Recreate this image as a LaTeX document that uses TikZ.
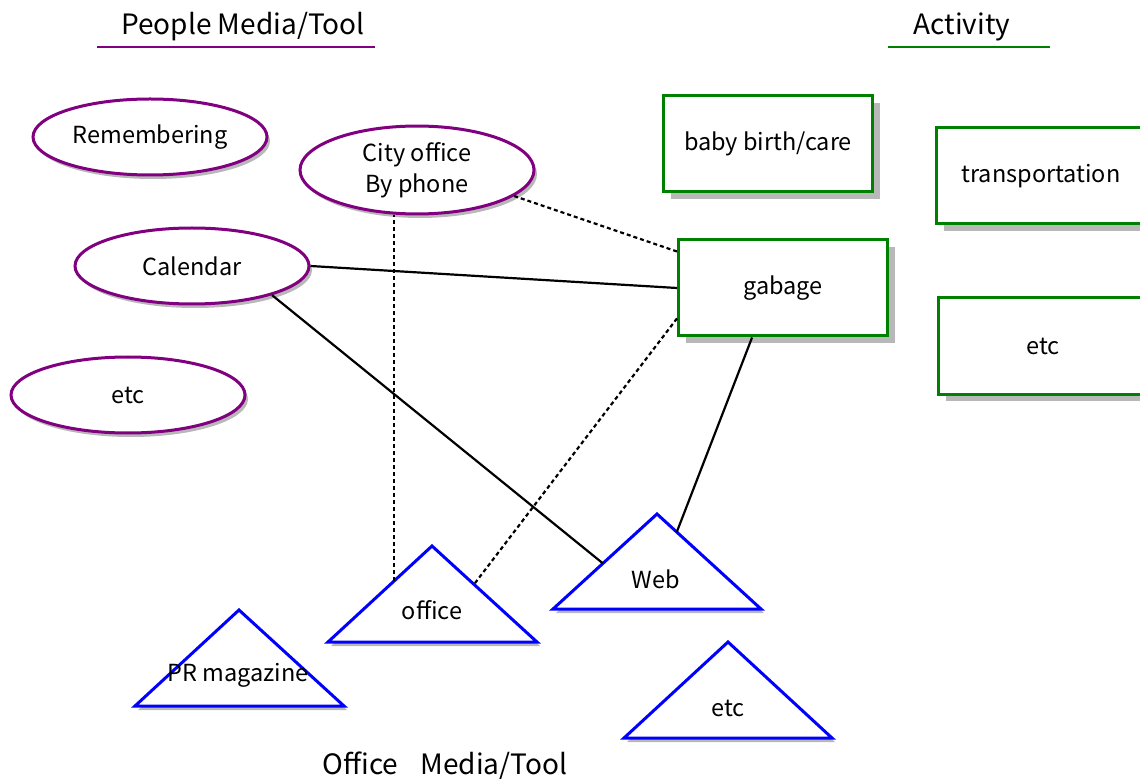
\documentclass[tikz,border=0pt]{standalone}
\usepackage{fontspec}
\setmainfont{Noto Sans CJK JP}
\usetikzlibrary{shapes.geometric,shadows,calc}
\definecolor{peoplecol}{RGB}{128,0,128}
\definecolor{actcol}{RGB}{0,128,0}
\definecolor{officecol}{RGB}{0,0,255}
\begin{document}
\begin{tikzpicture}[x=1pt, y=-1pt, line width=2pt,
                    shadowA/.style={drop shadow={shadow xshift=3pt, shadow yshift=-4pt, fill=black!28, opacity=1}},
                    shadowB/.style={drop shadow={shadow xshift=7pt, shadow yshift=-7pt, fill=black!28, opacity=1}}]
\tikzstyle{every node}=[font=\fontsize{23.5}{31}\selectfont]
\tikzstyle{heading}=[font=\fontsize{28}{32}\selectfont]
\tikzstyle{people}=[ellipse, draw=peoplecol, line width=3pt, fill=white, minimum width=234pt, minimum height=76pt, shadowA]
\tikzstyle{activity}=[rectangle, draw=actcol, line width=3pt, fill=white, minimum width=209pt, minimum height=96pt, shadowB]
\tikzstyle{tool}=[draw=officecol, line width=3pt, fill=white, line join=miter, shadowA]
\tikzstyle{link}=[black, line width=2.2pt]
\tikzstyle{dlink}=[black, line width=2.2pt, dash pattern=on 4pt off 3pt]
\useasboundingbox (0,0) rectangle (1140,783);

% headings
\node [heading] (ptitle) at (243,27) {People Media/Tool};
\draw[peoplecol, line width=2.5pt] (97,47) -- (375,47);
\node [heading] (atitle) at (962,27) {Activity};
\draw[actcol, line width=2.5pt] (888,47) -- (1050,47);
\node [heading] (otitle) at (445,766) {Office\hspace{0.8em}Media/Tool};

% people media
\node [people] (remem) at (150,137) {Remembering};
\node [people, align=center] (city) at (417,170) {City office\\By phone};
\node [people] (cal) at (192,266) {Calendar};
\node [people] (petc) at (128,395) {etc};

% activities
\node [activity] (baby) at (768,144) {baby birth/care};
\node [activity] (trans) at (1041,176) {transportation};
\node [activity] (gab) at (783,288) {gabage};
\node [activity] (aetc) at (1043,346) {etc};

% office media
\coordinate (webA) at (657,514); \coordinate (webL) at (553,609); \coordinate (webR) at (761,609);
\coordinate (offA) at (432,546); \coordinate (offL) at (328,642); \coordinate (offR) at (537,642);
\coordinate (prA) at (239,610);  \coordinate (prL) at (135,706);  \coordinate (prR) at (344,706);
\coordinate (oetcA) at (728,642); \coordinate (oetcL) at (624,738); \coordinate (oetcR) at (832,738);
\filldraw[tool] (webA) -- (webL) -- (webR) -- cycle;
\filldraw[tool] (offA) -- (offL) -- (offR) -- cycle;
\filldraw[tool] (prA) -- (prL) -- (prR) -- cycle;
\filldraw[tool] (oetcA) -- (oetcL) -- (oetcR) -- cycle;
\node (web) at (656,579) {Web};
\node (office) at (432,610) {office};
\node (pr) at (238,675) {PR magazine};
\node (oetc) at (728,708) {etc};

% links
\coordinate (offin1) at ($(offA)!0.365!(offL)$);
\coordinate (offin2) at ($(offA)!0.40!(offR)$);
\coordinate (webin1) at ($(webA)!0.52!(webL)$);
\coordinate (webin2) at ($(webA)!0.19!(webR)$);
\draw[dlink] (offin1) -- (offin1 |- city.south);
\draw[dlink] (city.-15) -- (gab.161);
\draw[link] (cal.east) -- (gab.west);
\draw[link] (cal.-20) -- (webin1);
\draw[dlink] (gab.196) -- (offin2);
\draw[link] (gab.238) -- (webin2);
\end{tikzpicture}
\end{document}
